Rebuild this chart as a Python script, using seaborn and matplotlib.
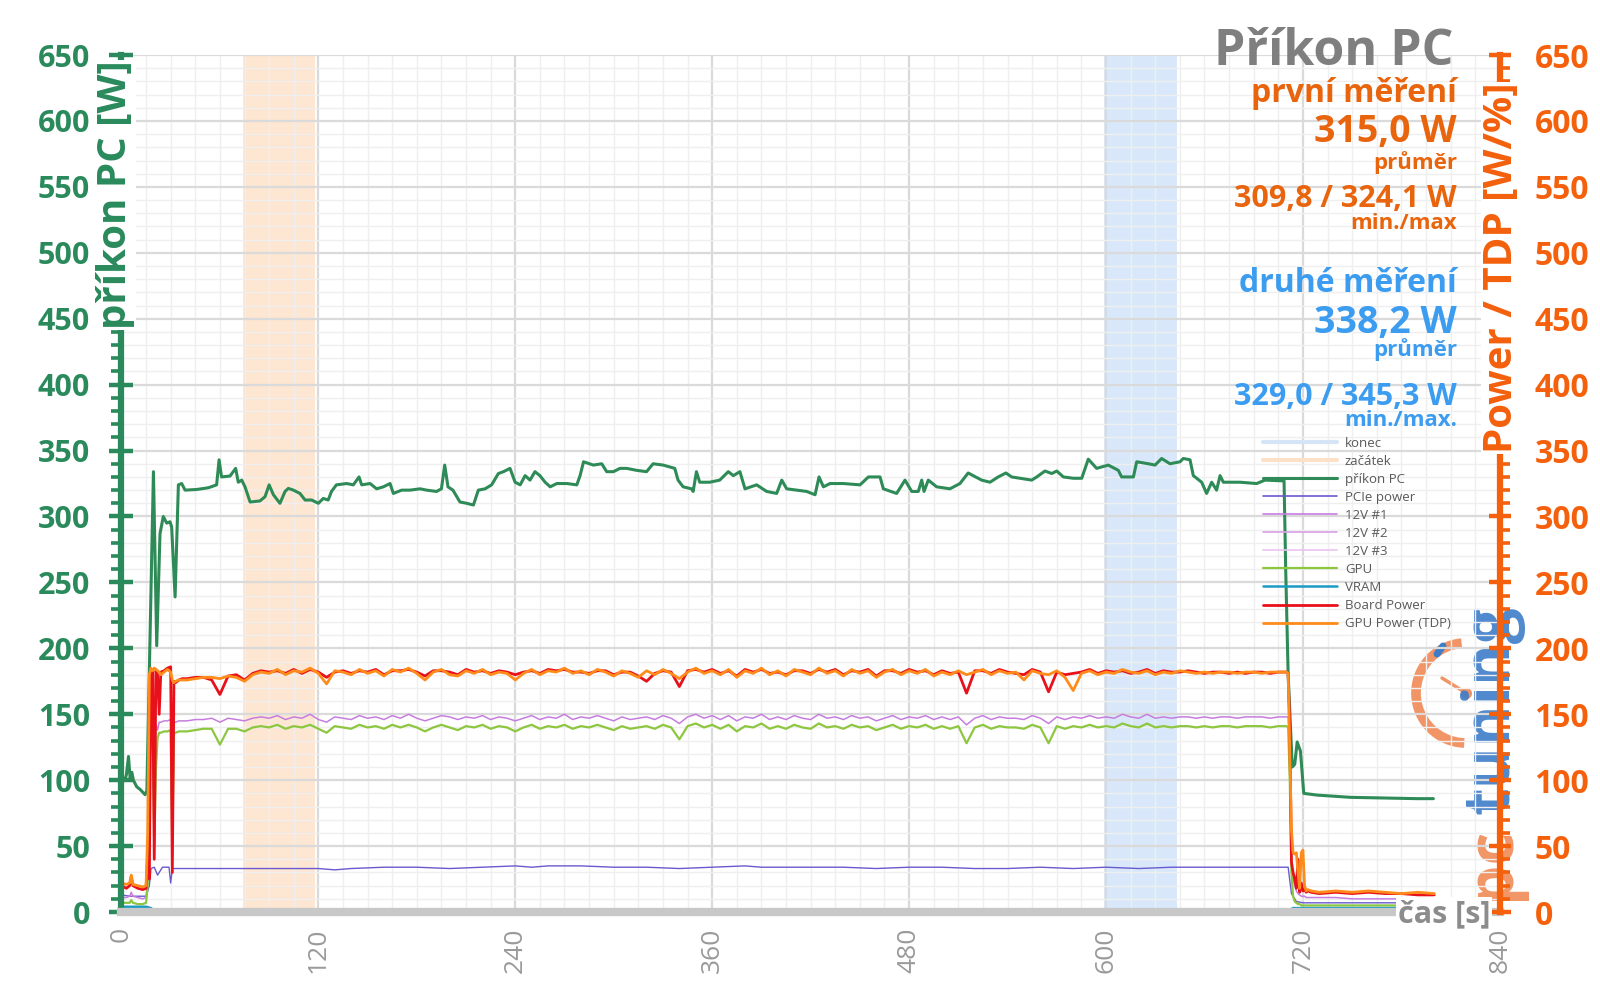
import numpy as np
import pandas as pd
import seaborn as sns
import matplotlib.pyplot as plt
from matplotlib.ticker import MultipleLocator
from matplotlib.lines import Line2D
from matplotlib.patches import Arc

# --- data ---
# příkon PC (wall power), own sampling
t_pc = [0.5, 2, 3, 4.3, 5.3, 6.3, 7.3, 9.3, 11.4, 14.4,
        15.5, 19.5, 21.5, 23.5, 25.5, 27.6, 29.6, 30.6, 32.7, 34.7,
        36.7, 38.8, 45.9, 53, 58, 59.5, 61, 66.2, 69.6, 71.2,
        73.3, 75.3, 78.4, 84.4, 87.5, 90, 92.6, 96.6, 99.7, 101.7,
        104.8, 108.8, 111.9, 115.9, 120, 123, 126, 128, 131, 137.3,
        141.3, 144.8, 146.4, 151.5, 155.5, 159.6, 163.7, 165.7, 170.8, 175.9,
        182, 186, 192, 195, 197, 199, 202, 206.3, 210.4, 214.5,
        217.5, 221.6, 225.6, 229.7, 232.8, 236.8, 239.9, 243, 246, 249,
        252, 255, 258.2, 261.3, 265.3, 271.4, 277.5, 279.5, 281.6, 287.6,
        292.7, 295.7, 299.8, 303.8, 307.9, 314, 320, 324, 330.1, 337.2,
        339.2, 342.3, 347.4, 348.4, 350.4, 352.4, 358.5, 364.6, 369.8, 372.9,
        376.9, 380, 387.1, 393.2, 399.3, 402.4, 405.4, 411.5, 417.6, 422.7,
        425.1, 427.8, 431.8, 440, 450.1, 455.2, 462.3, 464.3, 472.4, 477.5,
        481.6, 485.6, 487.7, 489.1, 491.7, 496.8, 504.9, 511, 516, 519,
        524.2, 529.3, 534.3, 539, 542.5, 547.6, 554.7, 557.8, 562.8, 566.9,
        570, 574, 580.1, 585.2, 589.2, 594.3, 601.4, 607.5, 609.5, 616.7,
        618.7, 625.8, 629.9, 633.9, 639, 645.1, 647.1, 651.2, 653.2, 658.3,
        661.3, 664.4, 667.4, 669.5, 671.5, 681.7, 691.8, 696.9, 708.5, 709.5,
        711, 713.5, 715, 716.5, 718.5, 720.5, 728.6, 749, 769, 789.5,
        799.5]
prikon_pc = [102, 100, 104, 118, 101, 106, 100, 95, 93, 89,
             92, 334, 202, 287, 300, 295, 296, 292, 239, 324,
             325, 320, 320.5, 321.8, 324, 343, 330, 330.7, 336.5, 326,
             327.6, 322.5, 311, 311.8, 315, 324, 316.5, 310, 319, 321.3,
             320, 317.5, 312.5, 312.5, 310, 313.7, 312.5, 319, 324, 325,
             324, 330, 324, 325, 321, 322.5, 325, 317.5, 320, 320,
             321, 320, 319, 321, 339, 322.5, 320, 311, 310, 308.7,
             320, 321, 324, 332.6, 334, 336.5, 326, 324, 331, 327.6,
             334, 331, 326, 322.5, 325, 325, 324, 331, 341.5, 339,
             340, 334, 334, 336.5, 336.5, 335, 334, 340, 339, 336.5,
             327.6, 322.5, 321, 319, 334, 326, 326, 327.6, 334, 331,
             334, 321, 324, 319, 317.5, 327.6, 321, 320, 319, 316.5,
             330, 322.5, 325, 325, 324, 330, 330, 321, 317.5, 327.6,
             319, 319, 327.6, 319, 327.6, 322.5, 321, 325, 333, 331,
             327.6, 326, 330, 333, 330, 329, 327.6, 330, 334.5, 332.6,
             334.5, 330, 329, 329, 343.5, 336.5, 339, 335, 330, 330,
             341.5, 340, 339, 344, 340, 341.5, 344, 343, 331, 326,
             317.5, 326, 320, 331, 326, 326, 325, 327.6, 327, 260,
             180, 110, 112, 129, 122, 90, 88.7, 87, 86.5, 86,
             86]

# GPU-side sensors share one sampling grid
t_start = [0, 3, 5, 6, 7, 10, 13, 15, 16, 17, 18, 19, 20, 21, 22, 23, 24, 26, 28, 30, 31, 32, 33, 35, 37]
t_mid = list(range(40, 706, 5))
t_end = [708, 710, 711, 712, 713, 714, 715, 716, 717, 718, 719, 720, 721, 722, 723, 725,
         730, 740, 750, 760, 770, 780, 790, 800]
t_gpu = t_start + t_mid + t_end

gpu_power_tdp = ([22, 21, 22, 28, 21, 20, 19, 20, 60, 180, 185, 183, 185, 184, 183, 182, 180, 182, 184, 182, 176, 174, 175, 176, 176]
                 + [176, 177, 178, 178, 177, 179, 178, 175, 180, 182,
                    181, 184, 180, 183, 182, 185, 181, 173, 183, 182,
                    180, 184, 181, 183, 179, 184, 182, 185, 181, 176,
                    182, 184, 180, 179, 183, 181, 184, 180, 182, 181,
                    176, 181, 184, 180, 183, 182, 185, 181, 183, 180,
                    184, 182, 179, 183, 181, 178, 183, 180, 184, 181,
                    177, 182, 185, 181, 183, 180, 184, 178, 183, 181,
                    185, 180, 183, 179, 184, 182, 180, 185, 181, 183,
                    179, 184, 181, 183, 178, 182, 184, 180, 183, 181,
                    184, 179, 182, 180, 183, 180, 182, 184, 180, 183,
                    181, 182, 176, 183, 181, 180, 183, 178, 168, 181,
                    183, 180, 182, 181, 184, 182, 181, 183, 180, 182,
                    181, 183, 182, 181, 182, 181, 182, 182, 181, 182,
                    182, 181, 182, 182]
                 + [182, 182, 181, 120, 62, 45, 44, 45, 30, 18, 45, 47, 20, 16, 17, 16, 15, 16, 15, 16, 15, 14, 15, 14])

board_power = ([20, 18, 20, 27, 20, 18, 17, 18, 42, 25, 182, 184, 40, 183, 180, 150, 182, 183, 185, 186, 30, 175, 174, 176, 177]
               + [177, 178, 178, 176, 165, 179, 180, 176, 181, 183,
                  182, 183, 181, 184, 181, 184, 182, 178, 182, 183,
                  181, 183, 182, 184, 180, 183, 183, 184, 182, 179,
                  183, 183, 182, 180, 184, 182, 183, 181, 183, 182,
                  180, 182, 183, 181, 184, 183, 184, 182, 182, 181,
                  183, 183, 180, 182, 182, 179, 175, 181, 183, 182,
                  171, 183, 184, 182, 184, 181, 183, 179, 184, 182,
                  184, 181, 182, 180, 183, 183, 181, 184, 182, 184,
                  180, 183, 182, 184, 179, 183, 183, 181, 184, 182,
                  183, 180, 183, 181, 182, 166, 183, 183, 181, 184,
                  182, 181, 180, 184, 182, 167, 182, 180, 181, 182,
                  184, 181, 183, 182, 183, 181, 182, 184, 181, 183,
                  182, 182, 183, 182, 181, 182, 182, 181, 182, 181,
                  182, 182, 181, 182]
               + [182, 182, 181, 140, 38, 30, 25, 18, 40, 15, 22, 16, 17, 15, 16, 15, 14, 15, 14, 15, 14, 14, 13, 13])

v12_1 = ([11, 11, 12, 15, 12, 11, 10, 11, 25, 120, 140, 143, 60, 142, 138, 144, 144, 145, 145, 146, 40, 144, 144, 145, 145]
         + [145, 146, 146, 147, 144, 147, 146, 145, 147, 148,
            147, 149, 146, 148, 147, 150, 146, 144, 148, 147,
            146, 149, 147, 148, 146, 149, 147, 150, 147, 145,
            147, 149, 148, 146, 148, 147, 149, 146, 148, 147,
            145, 147, 149, 146, 148, 147, 150, 146, 148, 147,
            149, 147, 145, 148, 146, 147, 148, 146, 149, 147,
            143, 148, 150, 147, 149, 146, 149, 145, 148, 147,
            150, 146, 148, 146, 149, 147, 146, 150, 147, 148,
            146, 149, 147, 148, 145, 147, 149, 146, 148, 147,
            149, 146, 148, 146, 148, 142, 147, 149, 146, 148,
            147, 147, 146, 149, 147, 143, 148, 146, 148, 147,
            149, 147, 148, 147, 150, 148, 147, 150, 147, 148,
            147, 148, 148, 147, 148, 147, 148, 148, 147, 148,
            148, 148, 147, 148]
         + [148, 148, 148, 120, 40, 25, 20, 16, 14, 13, 12, 12, 12, 11, 11, 11, 11, 11, 10, 10, 10, 10, 10, 10])

gpu_chip = ([7, 7, 7, 9, 7, 6, 6, 7, 20, 110, 135, 137, 50, 108, 132, 136, 136, 137, 137, 138, 49, 136, 136, 137, 137]
            + [137, 138, 139, 139, 127, 139, 139, 137, 140, 141,
               140, 142, 139, 141, 140, 142, 139, 136, 141, 140,
               139, 142, 140, 141, 139, 142, 140, 142, 140, 137,
               140, 142, 140, 138, 141, 140, 142, 139, 141, 140,
               137, 140, 142, 139, 141, 140, 142, 139, 141, 140,
               142, 140, 138, 141, 139, 140, 141, 139, 142, 140,
               131, 141, 143, 140, 142, 139, 142, 137, 141, 140,
               143, 139, 141, 139, 142, 140, 139, 143, 140, 141,
               139, 142, 140, 141, 138, 140, 142, 139, 141, 140,
               142, 139, 141, 139, 141, 128, 140, 142, 139, 141,
               140, 140, 139, 142, 140, 128, 141, 139, 141, 140,
               142, 140, 141, 140, 143, 141, 140, 143, 140, 141,
               140, 141, 141, 140, 141, 140, 141, 141, 140, 141,
               141, 141, 140, 141]
            + [141, 141, 140, 100, 30, 12, 8, 7, 6, 6, 5, 5, 5, 5, 5, 5, 5, 5, 5, 5, 5, 5, 5, 5])

t_pcie = [0, 5, 10, 15, 17, 18, 20, 22, 25, 29, 30, 31, 33, 40, 60, 80, 100, 120, 130, 140,
          160, 180, 200, 220, 240, 250, 260, 280, 300, 320, 340, 360, 380, 390, 400, 420, 440, 460, 480, 500,
          520, 540, 560, 580, 600, 620, 640, 660, 680, 700, 711, 713, 716, 720, 730, 750, 775, 800]
pcie_power = [13, 12, 12, 12, 20, 33, 34, 28, 34, 34, 22, 33, 33, 33, 33, 33, 33, 33, 32, 33,
              34, 34, 33, 34, 35, 34, 35, 35, 34, 34, 33, 34, 35, 34, 34, 34, 34, 33, 34, 34,
              33, 33, 34, 33, 34, 33, 34, 34, 34, 34, 34, 14, 8, 7, 7, 7, 7, 7]

t_low = [0, 15, 18, 20, 40, 200, 400, 600, 711, 714, 720, 760, 800]
vram = [4, 4, 3, 1, 1, 1, 1, 1, 1, 3, 3, 3, 3]
v12_2 = [2, 2, 1, 1, 1, 1, 1, 1, 1, 1, 1, 1, 1]
v12_3 = [1, 1, 0.5, 0.5, 0.5, 0.5, 0.5, 0.5, 0.5, 0.5, 0.5, 0.5, 0.5]

span_start = (74, 118)   # začátek
span_end = (599, 643)    # konec

# --- style ---
GREEN = '#2a8a5c'
ORANGE = '#f4600c'
TXT_OR = '#e8650e'
BLUE = '#3b9cf0'
GREY = '#8c8c8c'

sns.set_theme(style='white')
plt.rcParams['font.family'] = ['Open Sans', 'DejaVu Sans']

fig = plt.figure(figsize=(16, 10.08), dpi=100)
ax = fig.add_axes([0.0759, 0.0952, 0.8615, 0.8502])
ax.patch.set_visible(False)

ax.axvspan(*span_start, color='#fde6d2', lw=0, zorder=0.2)
ax.axvspan(*span_end, color='#d8e8fa', lw=0, zorder=0.2)

series = [
    ('příkon PC', t_pc, prikon_pc, '#2e8b57', 2.2),
    ('PCIe power', t_pcie, pcie_power, '#6a5acd', 1.0),
    ('12V #1', t_gpu, v12_1, '#c77ddf', 1.1),
    ('12V #2', t_low, v12_2, '#d9a0e8', 1.0),
    ('12V #3', t_low, v12_3, '#eac4f0', 1.0),
    ('GPU', t_gpu, gpu_chip, '#8dc63f', 1.6),
    ('VRAM', t_low, vram, '#1a9bc4', 1.8),
    ('Board Power', t_gpu, board_power, '#e8101a', 2.0),
    ('GPU Power (TDP)', t_gpu, gpu_power_tdp, '#ff8c1a', 2.0),
]
handles = [Line2D([], [], color='#d5e5f5', lw=3), Line2D([], [], color='#fde0c8', lw=3)]
labels = ['konec', 'začátek']
for name, tt, vv, col, lw in series:
    sns.lineplot(x=tt, y=vv, ax=ax, color=col, linewidth=lw, estimator=None, legend=False, zorder=2)
    handles.append(Line2D([], [], color=col, lw=max(lw, 1.2)))
    labels.append(name)

ax.set_xlim(0, 840)
ax.set_ylim(0, 650)
ax.set_axisbelow(True)
ax.xaxis.set_minor_locator(MultipleLocator(15))
ax.yaxis.set_minor_locator(MultipleLocator(10))
ax.grid(which='major', color='#dadada', lw=1.6)
ax.grid(which='minor', color='#efefef', lw=1.0)
ax.set_xlabel('')
ax.set_ylabel('')

ax.set_xticks(range(0, 841, 120), [str(v) for v in range(0, 841, 120)],
              rotation=90, color='#9a9a9a', fontsize=19)
ax.set_yticks(range(0, 651, 50), [str(v) for v in range(0, 651, 50)],
              color=GREEN, fontsize=22, fontweight='bold')
ax.tick_params(axis='x', which='major', direction='out', length=5, width=2, color='#c8c8c8', pad=6)
ax.tick_params(axis='x', which='minor', length=0)
ax.tick_params(axis='y', which='major', direction='inout', length=17, width=3.2, color=GREEN, pad=14)
ax.tick_params(axis='y', which='minor', direction='out', length=7, width=2.6, color=GREEN)

for s in ['top', 'right']:
    ax.spines[s].set_visible(False)
ax.spines['left'].set_color(GREEN)
ax.spines['left'].set_linewidth(4.5)
ax.spines['bottom'].set_color('#c8c8c8')
ax.spines['bottom'].set_linewidth(6)

ax2 = ax.twinx()
ax2.set_ylim(0, 650)
ax2.set_yticks(range(0, 651, 50), [str(v) for v in range(0, 651, 50)],
               color=ORANGE, fontsize=23, fontweight='bold')
ax2.yaxis.set_minor_locator(MultipleLocator(10))
ax2.tick_params(axis='y', which='major', direction='inout', length=16, width=3.2, color=ORANGE, pad=17)
ax2.tick_params(axis='y', which='minor', direction='out', length=7, width=2.6, color=ORANGE)
for s in ['top', 'left', 'bottom']:
    ax2.spines[s].set_visible(False)
ax2.spines['right'].set_color(ORANGE)
ax2.spines['right'].set_linewidth(4.5)


def fx(px):
    return px / 1600


def fy(py):
    return 1 - py / 1008


# axis titles sit on top of the spines
fig.text(fx(116), fy(195), 'příkon PC [W]', rotation=90, ha='center', va='center',
         color=GREEN, fontsize=29, fontweight='bold', zorder=10,
         bbox=dict(facecolor='white', edgecolor='none', pad=0.5))
fig.text(fx(1501), fy(268), 'Power / TDP [W/%]', rotation=90, ha='center', va='center',
         color=ORANGE, fontsize=29, fontweight='bold', zorder=10,
         bbox=dict(facecolor='white', edgecolor='none', pad=0.5))
fig.text(fx(1490), fy(922), 'čas [s]', ha='right', va='baseline', color=GREY,
         fontsize=22, fontweight='bold', zorder=10,
         bbox=dict(facecolor='white', edgecolor='none', pad=1))

# headline block
xr = fx(1457)
fig.text(fx(1453), fy(65), 'Příkon PC', ha='right', va='baseline', color='#7f7f7f', fontsize=36, fontweight='bold')
fig.text(xr, fy(102), 'první měření', ha='right', va='baseline', color=TXT_OR, fontsize=23, fontweight='bold')
fig.text(xr, fy(142), '315,0 W', ha='right', va='baseline', color=TXT_OR, fontsize=27, fontweight='bold')
fig.text(xr, fy(169), 'průměr', ha='right', va='baseline', color=TXT_OR, fontsize=16, fontweight='bold')
fig.text(xr, fy(207), '309,8 / 324,1 W', ha='right', va='baseline', color=TXT_OR, fontsize=22, fontweight='bold')
fig.text(xr, fy(229), 'min./max', ha='right', va='baseline', color=TXT_OR, fontsize=16, fontweight='bold')
fig.text(xr, fy(292), 'druhé měření', ha='right', va='baseline', color=BLUE, fontsize=23, fontweight='bold')
fig.text(xr, fy(333), '338,2 W', ha='right', va='baseline', color=BLUE, fontsize=27, fontweight='bold')
fig.text(xr, fy(356), 'průměr', ha='right', va='baseline', color=BLUE, fontsize=16, fontweight='bold')
fig.text(xr, fy(405), '329,0 / 345,3 W', ha='right', va='baseline', color=BLUE, fontsize=22, fontweight='bold')
fig.text(xr, fy(426), 'min./max.', ha='right', va='baseline', color=BLUE, fontsize=16, fontweight='bold')

fig.legend(handles, labels, loc='upper left', bbox_to_anchor=(fx(1263), fy(437)),
           frameon=False, fontsize=9.5, handlelength=5.6, handletextpad=0.6,
           labelspacing=0.38, borderpad=0, borderaxespad=0, labelcolor='#595959')

# pctuning watermark
lg = fig.add_axes([fx(1380), fy(900), fx(150), 310 / 1008], zorder=-1)
lg.set_xlim(0, 150)
lg.set_ylim(0, 310)
lg.axis('off')
lg.add_patch(Arc((86, 207), 100, 100, theta1=95, theta2=268, color='#f08a55', lw=7, alpha=0.9))
lg.plot([86, 62], [207, 222], color='#f08a55', lw=2.5, alpha=0.9)
lg.plot([86], [207], 'o', color='#f08a55', ms=7, alpha=0.9)
lg.plot([57, 63], [246, 254], color='#3d7cc9', lw=5)
fig.text(fx(1492), fy(900), 'pc', rotation=90, ha='center', va='bottom', color='#f08a55',
         fontsize=46, fontweight='bold', alpha=0.9, zorder=-1)
fig.text(fx(1492), fy(814), 'tuning', rotation=90, ha='center', va='bottom', color='#3d7cc9',
         fontsize=46, fontweight='bold', alpha=0.9, zorder=-1)

fig.savefig('out.png', dpi=100, facecolor='white')
